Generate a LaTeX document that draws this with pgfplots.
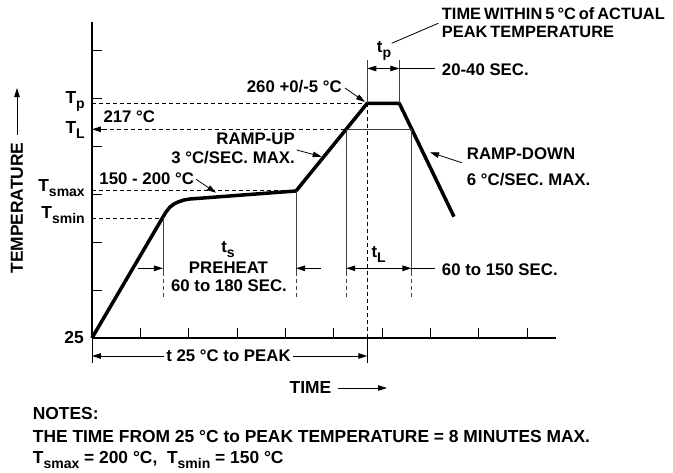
\documentclass[border=0pt]{standalone}
\usepackage{fontspec}
\setmainfont{Liberation Sans}
\usepackage{pgfplots}
\pgfplotsset{compat=1.18}
\usetikzlibrary{arrows.meta}
\newcommand{\sub}[1]{\raisebox{-0.3em}{\fontsize{14}{16}\selectfont #1}}
\newcommand{\fA}{\fontsize{16.8}{19}\selectfont}
\newcommand{\fB}{\fontsize{17.4}{20}\selectfont}
\newcommand{\fC}{\fontsize{16.4}{19}\selectfont}
\begin{document}
\bfseries\fA
\begin{tikzpicture}[font=\bfseries\fA,
  arr/.style={-{Triangle[length=9pt,width=5.5pt]}, line width=0.8pt},
  darr/.style={{Triangle[length=9pt,width=5.5pt]}-{Triangle[length=9pt,width=5.5pt]}, line width=0.8pt},
  dsh/.style={dash pattern=on 4pt off 3pt, line width=0.8pt},
  guide/.style={line width=0.8pt, black!75}]
\begin{axis}[
  x=48.33pt, y=48pt, xmin=0, xmax=9.6, ymin=0, ymax=6.583,
  axis lines*=left, axis line style={line width=1.5pt},
  xtick={1,...,9}, ytick={1,...,6}, xticklabels={}, yticklabels={},
  tick align=inside, major tick length=10pt,
  tick style={line width=0.8pt, black},
  clip=false]
% reflow profile
\addplot[line width=3.5pt, line join=round, mark=none] coordinates {
 (0,0) (1.469,2.521) (1.531,2.625) (1.614,2.729) (1.697,2.792)
 (1.779,2.833) (1.904,2.875) (2.028,2.896) (4.221,3.063)
 (5.696,4.890) (6.358,4.890) (7.490,2.527)};
% level lines
\draw[dsh] (0,4.890) -- (5.696,4.890);
\draw[dsh] (0.22,4.348) -- (5.26,4.348);
\draw[arr] (0.3,4.348) -- (0,4.348);
\draw[guide] (5.26,4.348) -- (6.61,4.348);
\draw[dsh] (0,3.083) -- (4.221,3.083);
\draw[dsh] (0,2.5) -- (1.469,2.5);
% preheat
\draw[guide] (1.469,2.521) -- (1.469,1.375);
\draw[guide,dsh] (1.469,1.375) -- (1.469,0.792);
\draw[guide] (4.221,3.063) -- (4.221,1.375);
\draw[guide,dsh] (4.221,1.375) -- (4.221,0.792);
\draw[arr] (0.952,1.452) -- (1.469,1.452);
\draw[arr] (4.738,1.452) -- (4.221,1.452);
\node at (2.814,1.833) {t\sub{s}};
\node at (2.824,1.458) {PREHEAT};
\node at (2.835,1.094) {60 to 180 SEC.};
% time above liquidus
\draw[guide] (5.26,4.348) -- (5.26,1.375);
\draw[guide,dsh] (5.26,1.375) -- (5.26,0.792);
\draw[guide] (6.61,4.348) -- (6.61,1.375);
\draw[guide,dsh] (6.61,1.375) -- (6.61,0.792);
\draw[darr] (5.26,1.452) -- (6.61,1.452);
\draw[line width=0.8pt] (6.61,1.452) -- (7.097,1.452);
\node[anchor=west, inner sep=0pt] at (7.236,1.431) {60 to 150 SEC.};
\node at (5.93,1.74) {t\sub{L}};
% peak
\draw[dsh] (5.696,4.890) -- (5.696,0);
\draw[line width=0.8pt] (5.696,0) -- (5.696,-0.521);
\draw[line width=0.8pt] (0,0) -- (0,-0.521);
\draw[darr] (0,-0.375) -- (5.696,-0.375);
\node[fill=white, inner xsep=2pt, inner ysep=1pt] at (2.824,-0.375) {t 25 °C to PEAK};
\draw[guide] (5.696,4.890) -- (5.696,5.792);
\draw[guide] (6.358,4.890) -- (6.358,5.792);
\draw[darr] (5.696,5.615) -- (6.358,5.615);
\draw[line width=0.8pt] (6.358,5.615) -- (7.097,5.615);
\node[anchor=west, inner sep=0pt] at (7.236,5.583) {20-40 SEC.};
\node at (6.042,5.979) {t\sub{p}};
\draw[line width=0.8pt] (6.201,6.140) -- (7.165,6.556);
\node[anchor=west, inner sep=0pt, font=\bfseries\fC] at (7.236,6.765) {\spaceskip=3pt\relax TIME WITHIN 5 °C of ACTUAL};
\node[anchor=west, inner sep=0pt, font=\bfseries\fC] at (7.236,6.381) {\spaceskip=3pt\relax PEAK TEMPERATURE};
% annotations
\node[anchor=east, inner sep=0pt] at (5.173,5.235) {260 +0/-5 °C};
\draw[arr] (5.235,5.208) -- (5.649,4.917);
\node[anchor=west, inner sep=0pt] at (0.234,4.610) {217 °C};
\node[anchor=east, inner sep=0pt] at (4.200,4.146) {RAMP-UP};
\node[anchor=east, inner sep=0pt] at (4.200,3.765) {3 °C/SEC. MAX.};
\draw[arr] (4.235,3.917) -- (4.753,3.777);
\node[anchor=west, inner sep=0pt] at (0.151,3.327) {150 - 200 °C};
\draw[arr] (2.152,3.306) -- (2.566,3.027);
\node[anchor=west, inner sep=0pt] at (7.753,3.833) {RAMP-DOWN};
\node[anchor=west, inner sep=0pt] at (7.753,3.292) {6 °C/SEC. MAX.};
\draw[arr] (7.650,3.652) -- (6.994,3.869);
% y labels
\node[anchor=base east, inner sep=0pt, font=\bfseries\fB] at (-0.145,4.885) {T\sub{p}};
\node[anchor=base east, inner sep=0pt, font=\bfseries\fB] at (-0.145,4.26) {T\sub{L}};
\node[anchor=base east, inner sep=0pt, font=\bfseries\fB] at (-0.145,3.052) {T\sub{smax}};
\node[anchor=base east, inner sep=0pt, font=\bfseries\fB] at (-0.145,2.49) {T\sub{smin}};
\node[anchor=east, inner sep=0pt, font=\bfseries\fB] at (-0.166,0.02) {25};
% axis titles
\node[rotate=90, font=\bfseries\fB] at (-1.552,2.708) {TEMPERATURE};
\draw[arr] (-1.552,4.229) -- (-1.552,5.208);
\node[font=\bfseries\fB] at (4.521,-1.042) {TIME};
\draw[arr] (5.090,-1.042) -- (6.104,-1.042);
% notes
\node[anchor=west, inner sep=0pt, font=\bfseries\fB] at (-1.227,-1.579) {NOTES:};
\node[anchor=west, inner sep=0pt, font=\bfseries\fB] at (-1.227,-2.0625) {THE TIME FROM 25 °C to PEAK TEMPERATURE = 8 MINUTES MAX.};
\node[anchor=west, inner sep=0pt, font=\bfseries\fB] at (-1.227,-2.542) {T\sub{smax} = 200 °C,\ \ T\sub{smin} = 150 °C};
\end{axis}
\useasboundingbox (-92pt,-135pt) rectangle (581pt,338pt);
\end{tikzpicture}
\end{document}
